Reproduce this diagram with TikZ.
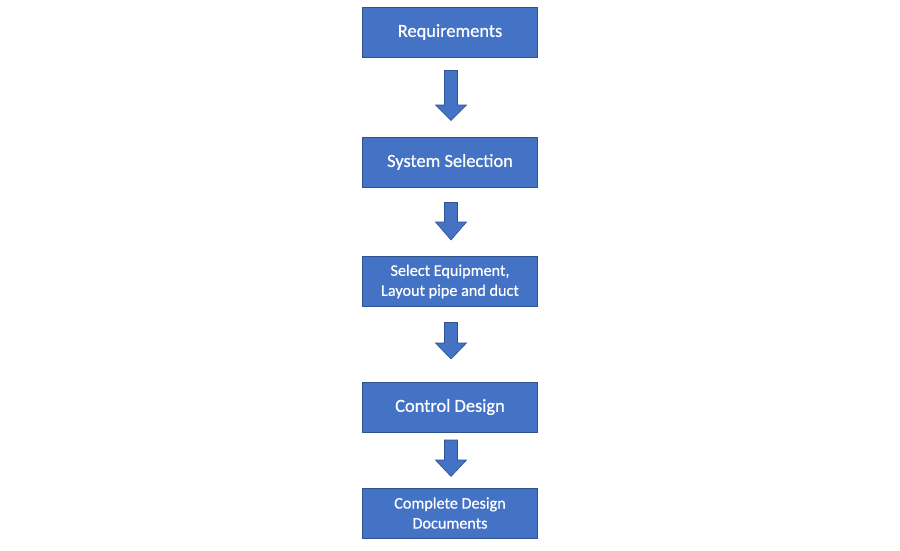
\documentclass[tikz,border=0pt]{standalone}
\usepackage{fontspec}
\setmainfont{Carlito}[FakeBold=0.6]
\definecolor{boxblue}{HTML}{4472C4}
\definecolor{boxedge}{HTML}{2F528F}
\begin{document}
\begin{tikzpicture}[x=1pt,y=-1pt,
  stepbox/.style={draw=boxedge,line width=0.8pt,fill=boxblue,minimum width=175pt,minimum height=50pt,
    text=white,font=\fontsize{18.4}{21}\selectfont,align=center,inner sep=0pt},
  smallbox/.style={stepbox,font=\fontsize{16.2}{20}\selectfont}]
\useasboundingbox (0,0) rectangle (900,550);
\fill[white] (0,0) rectangle (900,550);
\node[stepbox] (r) at (450,32) {Requirements};
\node[stepbox] (s) at (450,162) {System Selection};
\node[smallbox] (e) at (450,281.5) {Select Equipment,\\Layout pipe and duct};
\node[stepbox] (c) at (450,407) {Control Design};
\node[smallbox] (d) at (450,513) {Complete Design\\Documents};
\newcommand{\blockarrow}[3]{% top y, head start y, tip y
  \draw[draw=boxedge,line width=0.6pt,fill=boxblue]
    (444.5,#1) -- (457.5,#1) -- (457.5,#2) -- (466.5,#2) -- (451,#3) -- (435.5,#2) -- (444.5,#2) -- cycle;}
\blockarrow{70.5}{105}{120.5}
\blockarrow{202.5}{222}{240}
\blockarrow{322.5}{343}{359}
\blockarrow{440}{460}{476.5}
\end{tikzpicture}
\end{document}
